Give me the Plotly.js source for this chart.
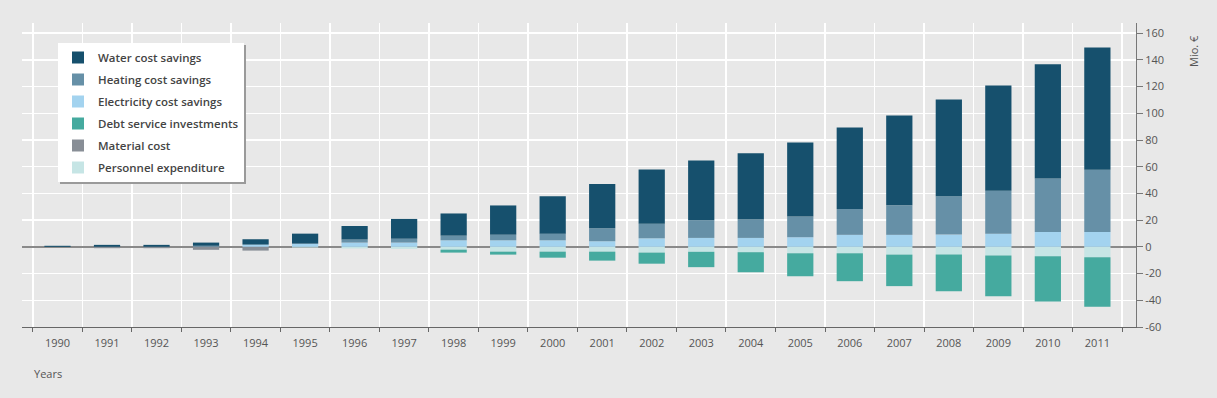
<!DOCTYPE html>
<html><head><meta charset="utf-8">
<script src="https://cdn.plot.ly/plotly-3.0.1.min.js"></script>
<style>html,body{margin:0;padding:0;background:#e8e8e8;}</style>
</head><body><div id="chart" style="width:1217px;height:398px;"></div>
<script>
const years = ["1990","1991","1992","1993","1994","1995","1996","1997","1998","1999","2000","2001","2002","2003","2004","2005","2006","2007","2008","2009","2010","2011"];
const waterSavings = [0.8,1.5,1.5,2.4,4.0,7.5,10.1,14.8,16.6,21.9,27.9,33.1,40.6,44.8,49.6,55.5,61.0,67.3,72.6,78.7,85.7,91.4];
const heatingSavings = [0,0,0,0.8,0,0,2.3,2.9,3.5,4.2,5.0,9.7,10.9,13.2,13.7,15.5,19.4,22.1,28.6,32.2,39.9,46.6];
const electricitySavings = [0,0,0,0,1.7,2.4,3.2,3.2,4.9,4.9,4.9,4.2,6.4,6.7,6.7,7.2,9.0,9.0,9.2,9.9,11.2,11.2];
const personnelExpenditure = [0,0,0,0,0,-0.5,-1.2,-1.5,-2.1,-3.6,-3.6,-3.6,-4.3,-3.7,-4.0,-4.8,-4.8,-5.8,-5.8,-6.5,-7.0,-7.7];
const materialCost = [0,-1.0,-1.0,-2.2,-2.8,0,0,0,0,0,0,0,0,0,0,0,0,0,0,0,0,0];
const debtService = [0,0,0,0,0,0,0,0,-2.2,-2.2,-4.5,-6.7,-8.3,-11.5,-15.0,-17.2,-20.9,-23.6,-27.4,-30.4,-33.9,-37.2];
const yTickVals = [-60,-40,-20,0,20,40,60,80,100,120,140,160];
const yTickText = ["-60","-40","-20","0","20","40","60","80","100","120","140","160"];

function bar(name, vals, color, rank) {
  return {type:'bar', name:name, x:years, y:vals, marker:{color:color, line:{width:0}},
    legendrank:rank, legendgroup:'g'+rank, hoverinfo:'skip'};
}
const data = [
  bar('Electricity cost savings', electricitySavings, '#a3d3ef', 3),
  bar('Heating cost savings', heatingSavings, '#6690a7', 2),
  bar('Water cost savings', waterSavings, '#16506d', 1),
  bar('Personnel expenditure', personnelExpenditure, '#c6e5e5', 6),
  bar('Material cost', materialCost, '#888e96', 5),
  bar('Debt service investments', debtService, '#45aa9f', 4)
];
const W=1217,H=398,L=22,R=81,T=23,B=71;
const pw=W-L-R, ph=H-T-B;
const px=v=>(v-L)/pw, py=v=>(H-B-v)/ph;
const layout = {
  width:W, height:H,
  margin:{l:L,r:R,t:T,b:B,pad:0},
  paper_bgcolor:'#e8e8e8', plot_bgcolor:'#e8e8e8',
  font:{family:'Open Sans, sans-serif', size:11, color:'#555'},
  barmode:'relative', bargap:0.47,
  showlegend:true,
  legend:{x:px(58), y:py(43), xanchor:'left', yanchor:'top', bgcolor:'#ffffff', borderwidth:0,
    font:{family:'Open Sans, sans-serif', size:11.5, color:'#444', weight:600},
    tracegroupgap:3, traceorder:'grouped'},
  xaxis:{type:'category', range:[-0.717,21.78], tickson:'boundaries', showgrid:true, gridcolor:'#ffffff', gridwidth:1.5,
    showline:true, linecolor:'#666', linewidth:1, ticks:'outside', ticklen:4, tickcolor:'#666',
    ticklabelstandoff:6, tickfont:{size:11, color:'#555'}, zeroline:false, fixedrange:true},
  yaxis:{side:'right', range:[-60,167.6], tickvals:yTickVals, ticktext:yTickText, showgrid:true, gridcolor:'#ffffff', gridwidth:1.5,
    showline:true, linecolor:'#777', linewidth:1, ticks:'outside', ticklen:6, tickcolor:'#777',
    tickfont:{size:11, color:'#555'}, zeroline:true, zerolinecolor:'#8a8a8a', zerolinewidth:1.5, fixedrange:true},
  shapes:[],
  annotations:[
    {text:'Years', xref:'paper', yref:'paper', x:px(32), y:py(373), xanchor:'left', yanchor:'middle', showarrow:false,
      font:{size:11, color:'#555'}},
    {text:'Mio. €', xref:'paper', yref:'paper', x:px(1193), y:py(33), xanchor:'center', yanchor:'top', showarrow:false,
      textangle:-90, font:{size:11, color:'#555'}}
  ]
};
Plotly.newPlot('chart', data, layout, {displayModeBar:false, staticPlot:true}).then(gd => {
  const bg = gd.querySelector('.legend .bg');
  if (!bg) return;
  const r = bg.getBoundingClientRect();
  const c = gd.getBoundingClientRect();
  const l = r.left - c.left, t = r.top - c.top, rr = r.right - c.left, bb = r.bottom - c.top;
  return Plotly.relayout(gd, {shapes:[{type:'rect', xref:'paper', yref:'paper',
    x0:px(l+2), x1:px(rr+2), y0:py(t+2), y1:py(bb+2), fillcolor:'#9a9a9a', line:{width:0}, layer:'above'}]});
});
</script></body></html>
